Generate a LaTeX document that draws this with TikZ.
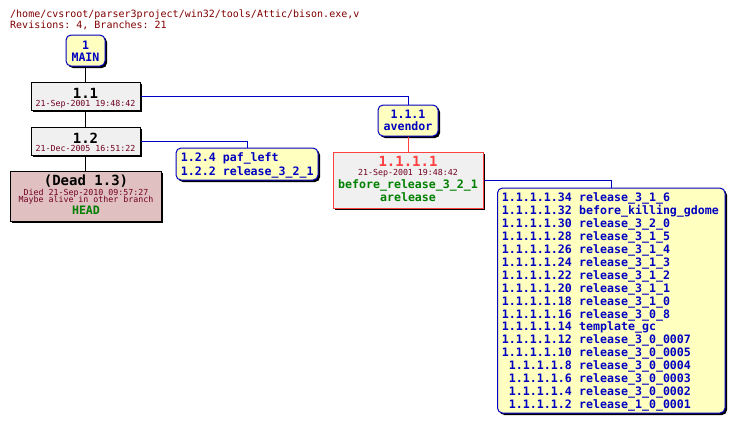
\documentclass[tikz,border=0pt]{standalone}
\usepackage{fontspec}
\setmonofont{DejaVu Sans Mono}
\usetikzlibrary{shadows}
\definecolor{tagblue}{RGB}{0,0,192}
\definecolor{boxblue}{RGB}{0,0,192}
\definecolor{tagyellow}{RGB}{255,255,192}
\definecolor{revgray}{RGB}{240,240,240}
\definecolor{deadpink}{RGB}{224,192,192}
\definecolor{datered}{RGB}{112,0,32}
\definecolor{headred}{RGB}{128,0,0}
\definecolor{branchred}{RGB}{255,64,64}
\definecolor{taggreen}{RGB}{0,128,0}
\begin{document}
\begin{tikzpicture}[x=1pt,y=-1pt,
  shadowed/.style={drop shadow={shadow xshift=2pt,shadow yshift=-2pt,fill=black,opacity=1}},
  revbox/.style={draw=black, fill=revgray, line width=1pt, inner sep=0pt, shadowed},
  deadbox/.style={revbox, fill=deadpink},
  brbox/.style={revbox, draw=branchred},
  tagbox/.style={draw=boxblue, fill=tagyellow, rounded corners=5pt, line width=1pt, inner sep=0pt, shadowed},
  tagtxt/.style={font=\ttfamily\bfseries\fontsize{11.6}{12.9}\selectfont, text=tagblue, inner sep=0pt, anchor=base},
  revtxt/.style={font=\ttfamily\bfseries\fontsize{14}{16}\selectfont, text=black, inner sep=0pt, anchor=base},
  datetxt/.style={font=\ttfamily\fontsize{8.3}{9}\selectfont, text=datered, inner sep=0pt, anchor=base},
  hdrtxt/.style={font=\ttfamily\fontsize{10}{12}\selectfont, text=headred, inner sep=0pt, anchor=base west},
  conn/.style={line width=1pt, draw=black},
  bconn/.style={line width=1pt, draw=boxblue},
  rconn/.style={line width=1pt, draw=branchred}]
\fill[white] (0,0) rectangle (734,424);
\useasboundingbox (0,0) rectangle (734,424);

% header
\node[hdrtxt] (hdr1) at (10,17.5) {/home/cvsroot/parser3project/win32/tools/Attic/bison.exe,v};
\node[hdrtxt] (hdr2) at (10,28.5) {Revisions: 4, Branches: 21};

% boxes
\node[tagbox, minimum width=39pt, minimum height=31pt] (main) at (85.5,50.5) {};
\node[revbox, minimum width=109pt, minimum height=28pt] (b11) at (85.5,96) {};
\node[revbox, minimum width=109pt, minimum height=28pt] (b12) at (85.5,141) {};
\node[deadbox, minimum width=151pt, minimum height=50pt] (dead) at (85.5,196) {};
\node[tagbox, minimum width=142pt, minimum height=32pt] (paf) at (247,164) {};
\node[tagbox, minimum width=60pt, minimum height=31pt] (avendor) at (408,120.5) {};
\node[brbox, minimum width=150pt, minimum height=56pt] (r1111) at (408,180) {};
\node[tagbox, minimum width=227.5pt, minimum height=225pt] (tags) at (611.25,300.5) {};

% connectors
\draw[conn] (main.south) -- (b11.north);
\draw[conn] (b11.south) -- (b12.north);
\draw[conn] (b12.south) -- (dead.north);
\draw[bconn] (b11.east) -| (avendor.north);
\draw[bconn] (b12.east) -| (paf.north);
\draw[rconn] (avendor.south) -- (r1111.north);
\draw[bconn] (r1111.east) -| (tags.north);

% texts
\node[tagtxt] (mainA) at (85.5,49.3) {1};
\node[tagtxt] (mainB) at (85.5,61.7) {MAIN};

\node[revtxt] (b11A) at (85.5,98.3) {1.1};
\node[datetxt] (b11B) at (85.5,106) {21-Sep-2001 19:48:42};

\node[revtxt] (b12A) at (85.5,143.3) {1.2};
\node[datetxt] (b12B) at (85.5,151) {21-Dec-2005 16:51:22};

\node[revtxt] (deadA) at (86,185.7) {(Dead 1.3)};
\node[datetxt] (deadB) at (86,195) {Died 21-Sep-2010 09:57:27};
\node[datetxt] (deadC) at (86,202.7) {Maybe alive in other branch};
\node[tagtxt, text=taggreen] (deadD) at (86,214.3) {HEAD};

\node[tagtxt, anchor=base west] (pafA) at (180.7,161) {1.2.4 paf\_left};
\node[tagtxt, anchor=base west] (pafB) at (180.7,175) {1.2.2 release\_3\_2\_1};

\node[tagtxt] (avA) at (408,118.3) {1.1.1};
\node[tagtxt] (avB) at (408,130.7) {avendor};

\node[revtxt, text=branchred] (rA) at (408,166.7) {1.1.1.1};
\node[datetxt] (rB) at (408,175) {21-Sep-2001 19:48:42};
\node[tagtxt, text=taggreen] (rC) at (408,188) {before\_release\_3\_2\_1};
\node[tagtxt, text=taggreen] (rD) at (408,201.7) {arelease};

\foreach \i/\v/\t in {
  1/1.1.1.1.34/release\_3\_1\_6,
  2/1.1.1.1.32/before\_killing\_gdome,
  3/1.1.1.1.30/release\_3\_2\_0,
  4/1.1.1.1.28/release\_3\_1\_5,
  5/1.1.1.1.26/release\_3\_1\_4,
  6/1.1.1.1.24/release\_3\_1\_3,
  7/1.1.1.1.22/release\_3\_1\_2,
  8/1.1.1.1.20/release\_3\_1\_1,
  9/1.1.1.1.18/release\_3\_1\_0,
  10/1.1.1.1.16/release\_3\_0\_8,
  11/1.1.1.1.14/template\_gc,
  12/1.1.1.1.12/release\_3\_0\_0007,
  13/1.1.1.1.10/release\_3\_0\_0005,
  14/1.1.1.1.8/release\_3\_0\_0004,
  15/1.1.1.1.6/release\_3\_0\_0003,
  16/1.1.1.1.4/release\_3\_0\_0002,
  17/1.1.1.1.2/release\_1\_0\_0001}{
  \node[tagtxt, anchor=base east] (v\i) at (572,{201.9+12.9*(\i-1)}) {\v};
  \node[tagtxt, anchor=base west] (t\i) at (579,{201.9+12.9*(\i-1)}) {\t};
}
\end{tikzpicture}
\end{document}
